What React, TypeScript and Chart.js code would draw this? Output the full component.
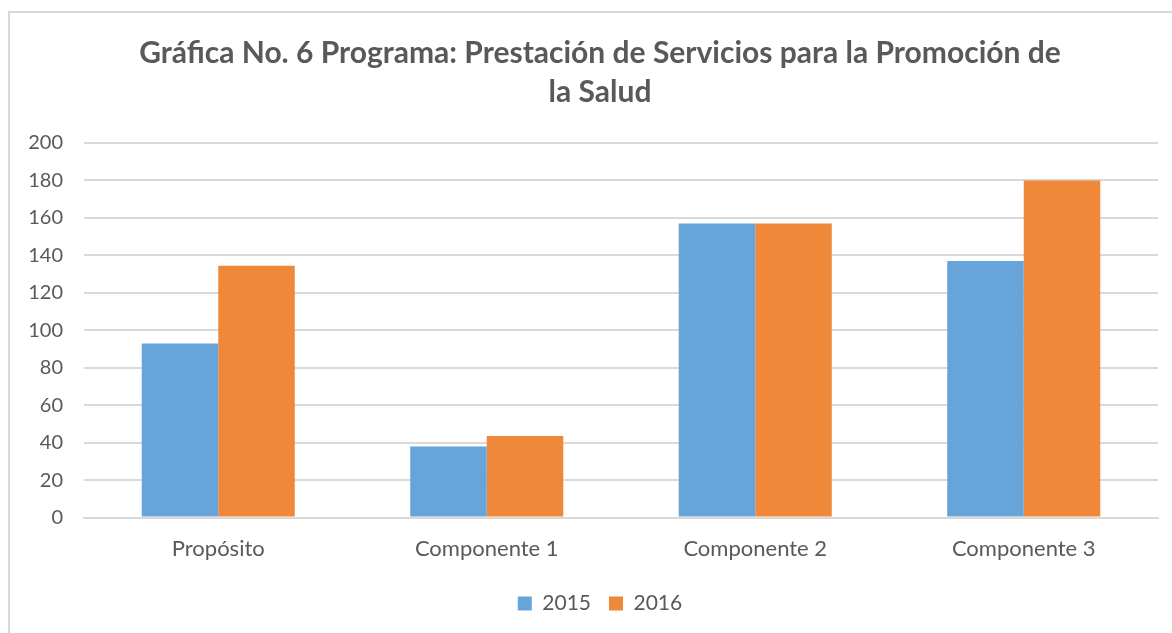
import React, { useEffect, useRef } from "react";
import { Chart, registerables } from "chart.js";

Chart.register(...registerables);

const categories = ["Propósito", "Componente 1", "Componente 2", "Componente 3"];
const values2015 = [93, 38, 157, 137];
const values2016 = [134.5, 43.5, 157, 180];
const seriesLabels = ["2015", "2016"];
const titleLines = [
  "Gráfica No. 6 Programa: Prestación de Servicios para la Promoción de",
  "la Salud",
];
const yMin = 0;
const yMax = 200;
const yStep = 20;

const FONT = "Lato, 'Open Sans', sans-serif";
const TEXT = "#595959";
const GRID = "#D9D9D9";

export default function App() {
  const ref = useRef<HTMLCanvasElement | null>(null);

  useEffect(() => {
    if (!ref.current) return;
    const chart = new Chart(ref.current, {
      type: "bar",
      data: {
        labels: categories,
        datasets: [
          {
            label: seriesLabels[0],
            data: values2015,
            backgroundColor: "#67A4DA",
            borderWidth: 0,
            categoryPercentage: 0.57,
            barPercentage: 1,
          },
          {
            label: seriesLabels[1],
            data: values2016,
            backgroundColor: "#EF8839",
            borderWidth: 0,
            categoryPercentage: 0.57,
            barPercentage: 1,
          },
        ],
      },
      options: {
        animation: false,
        responsive: false,
        maintainAspectRatio: false,
        layout: { padding: { left: 0, right: 0, top: 0, bottom: 9 } },
        plugins: {
          title: {
            display: true,
            text: titleLines,
            color: TEXT,
            font: { family: FONT, size: 30, weight: "bold", lineHeight: 1.3 },
            padding: { top: 33.5, bottom: 31.5 },
          },
          legend: {
            display: true,
            position: "bottom",
            labels: {
              color: TEXT,
              font: { family: FONT, size: 21 },
              boxWidth: 14,
              boxHeight: 14,
              padding: 18,
            },
          },
          tooltip: { enabled: false },
        },
        scales: {
          x: {
            grid: { display: false, drawTicks: false },
            border: { display: true, color: GRID, width: 2 },
            ticks: {
              color: TEXT,
              font: { family: FONT, size: 22 },
              padding: 18,
            },
            afterFit: (scale: any) => {
              scale.height = scale.height - 5;
            },
          },
          y: {
            min: yMin,
            max: yMax,
            grid: { color: GRID, lineWidth: 2, drawTicks: false },
            border: { display: false },
            ticks: {
              stepSize: yStep,
              color: TEXT,
              font: { family: FONT, size: 20 },
              padding: 21,
            },
            afterFit: (scale: any) => {
              scale.width = 84;
            },
          },
          yRight: {
            position: "right",
            min: yMin,
            max: yMax,
            grid: { display: false, drawTicks: false },
            border: { display: false },
            ticks: { display: false },
            afterFit: (scale: any) => {
              scale.width = 42;
            },
          },
        },
      },
    });
    return () => chart.destroy();
  }, []);

  return (
    <div style={{ position: "fixed", inset: 0, overflow: "hidden", background: "#fff" }}>
      <div
        style={{
          position: "absolute",
          left: 8,
          top: 11,
          width: 1250,
          height: 700,
          borderLeft: "2px solid #D9D9D9",
          borderTop: "2px solid #D9D9D9",
        }}
      />
      <canvas
        ref={ref}
        width={1200}
        height={633}
        style={{ position: "absolute", left: 0, top: 0, width: 1200, height: 633 }}
      />
    </div>
  );
}
